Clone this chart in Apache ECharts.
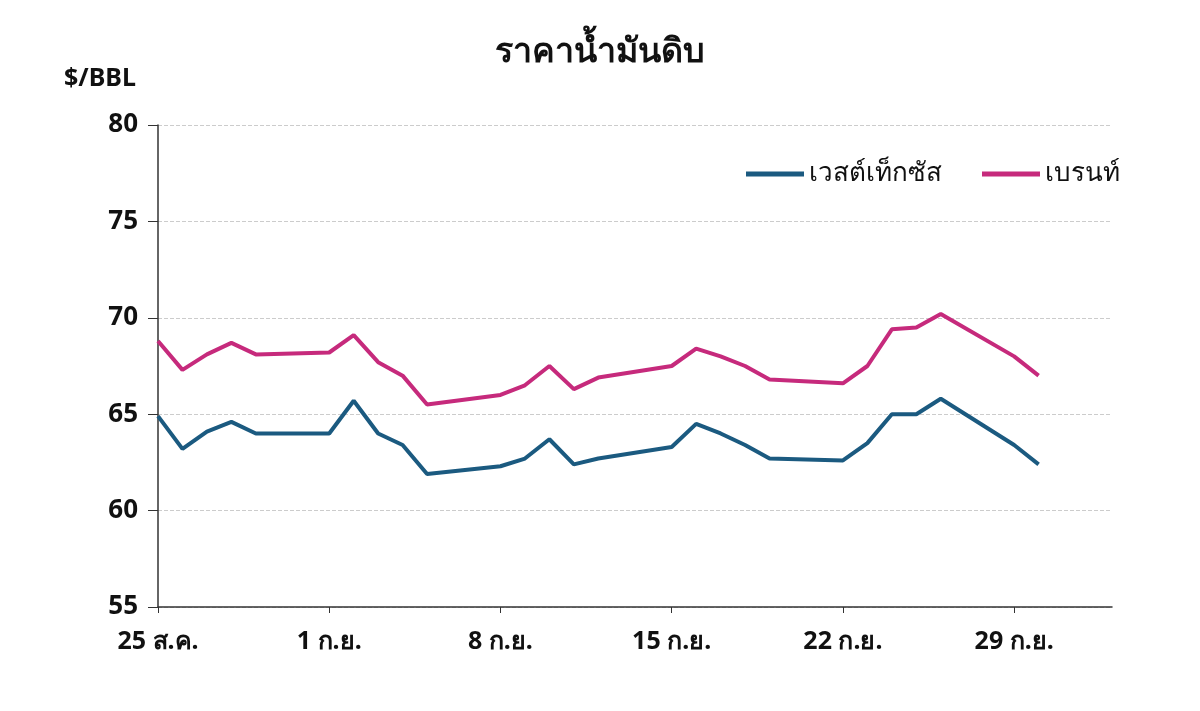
<!DOCTYPE html>
<html><head><meta charset="utf-8">
<script src="https://cdn.jsdelivr.net/npm/echarts@6/dist/echarts.min.js"></script>
<style>html,body{margin:0;background:#fff}#c{width:1200px;height:711px}</style>
</head><body><div id="c"></div>
<script>
const days = [0,1,2,3,4,7,8,9,10,11,14,15,16,17,18,21,22,23,24,25,28,29,30,31,32,35,36];
const wti = [64.9,63.2,64.1,64.6,64.0,64.0,65.7,64.0,63.4,61.9,62.3,62.7,63.7,62.4,62.7,63.3,64.5,64.0,63.4,62.7,62.6,63.5,65.0,65.0,65.8,63.4,62.4];
const brent = [68.8,67.3,68.1,68.7,68.1,68.2,69.1,67.7,67.0,65.5,66.0,66.5,67.5,66.3,66.9,67.5,68.4,68.0,67.5,66.8,66.6,67.5,69.4,69.5,70.2,68.0,67.0];
const tickLabels = {0:'25 ส.ค.',7:'1 ก.ย.',14:'8 ก.ย.',21:'15 ก.ย.',28:'22 ก.ย.',35:'29 ก.ย.'};
const ff = 'Noto Sans, sans-serif';
const chart = echarts.init(document.getElementById('c'));
chart.setOption({
  animation:false,
  title:{text:'ราคาน้ำมันดิบ',left:'center',top:30,textStyle:{fontFamily:ff,fontSize:34,fontWeight:'bold',color:'#111'}},
  legend:{top:156,right:75,itemWidth:58,itemHeight:5,itemGap:40,icon:'rect',
    textStyle:{fontFamily:ff,fontSize:26,color:'#111'},data:['เวสต์เท็กซัส','เบรนท์']},
  grid:{left:158,right:88,top:125,bottom:104},
  graphic:[{type:'text',left:64,top:66,style:{text:'$/BBL',font:'bold 25px Noto Sans',fill:'#111'}}],
  xAxis:{type:'value',min:0,max:39,interval:7,
    axisLine:{show:true,lineStyle:{color:'#333',width:1.5}},
    axisTick:{show:true,length:6,lineStyle:{color:'#333'}},
    splitLine:{show:false},
    axisLabel:{showMaxLabel:false,margin:22,fontFamily:ff,fontSize:25,fontWeight:'bold',color:'#111',
      formatter:v=>tickLabels[v]||''}},
  yAxis:{type:'value',min:55,max:80,interval:5,
    axisLine:{show:true,lineStyle:{color:'#333',width:1.5}},
    axisTick:{show:true,length:10,lineStyle:{color:'#333'}},
    splitLine:{lineStyle:{color:'#ccc',type:'dashed'}},
    axisLabel:{margin:20,fontFamily:ff,fontSize:26,fontWeight:'bold',color:'#111'}},
  series:[
    {name:'เวสต์เท็กซัส',type:'line',symbol:'none',data:days.map((d,i)=>[d,wti[i]]),lineStyle:{width:4,color:'#1b5a80'},itemStyle:{color:'#1b5a80'}},
    {name:'เบรนท์',type:'line',symbol:'none',data:days.map((d,i)=>[d,brent[i]]),lineStyle:{width:4,color:'#c62a7c'},itemStyle:{color:'#c62a7c'}}
  ]
});
</script></body></html>
